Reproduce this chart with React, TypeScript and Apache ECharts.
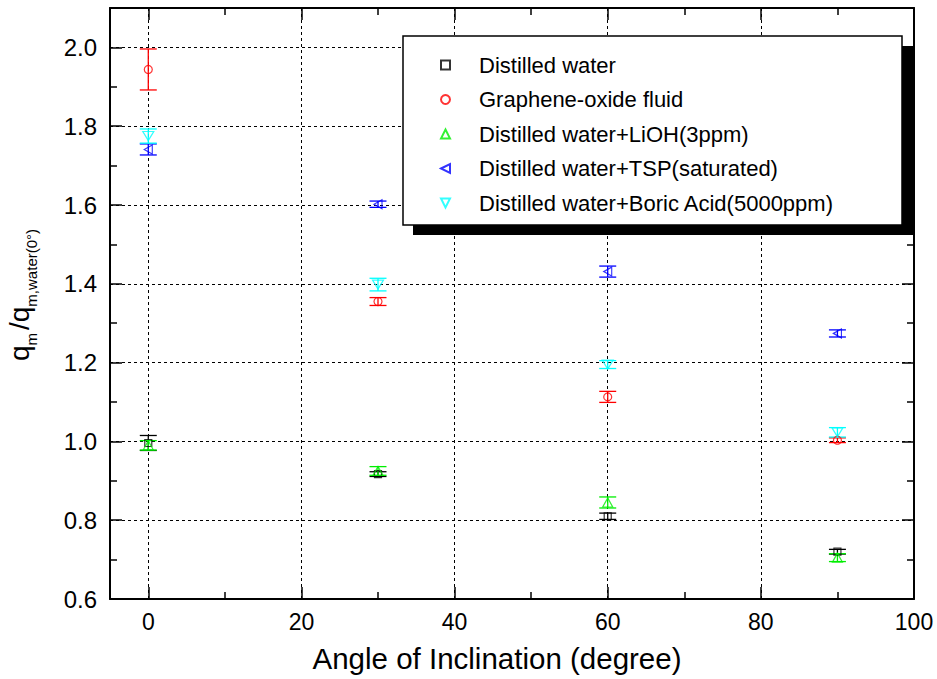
import React, { useEffect, useRef } from 'react';
import * as echarts from 'echarts';

const angles = [0, 30, 60, 90];
const seriesNames = [
  'Distilled water',
  'Graphene-oxide fluid',
  'Distilled water+LiOH(3ppm)',
  'Distilled water+TSP(saturated)',
  'Distilled water+Boric Acid(5000ppm)',
];
const distilledWater = [0.996, 0.917, 0.81, 0.72];
const distilledWaterErr = [0.019, 0.006, 0.008, 0.006];
const grapheneOxide = [1.944, 1.355, 1.113, 1.003];
const grapheneOxideErr = [0.052, 0.01, 0.014, 0.006];
const lioh = [0.99, 0.925, 0.845, 0.705];
const liohErr = [0.012, 0.011, 0.014, 0.01];
const tsp = [1.741, 1.602, 1.431, 1.274];
const tspErr = [0.014, 0.008, 0.014, 0.009];
const boric = [1.775, 1.398, 1.195, 1.023];
const boricErr = [0.018, 0.016, 0.01, 0.012];

const xMajorTicks = [0, 20, 40, 60, 80, 100];
const xMinorTicks = [10, 30, 50, 70, 90];
const yMajorTicks = [0.6, 0.8, 1.0, 1.2, 1.4, 1.6, 1.8, 2.0];
const yMinorTicks = [0.7, 0.9, 1.1, 1.3, 1.5, 1.7, 1.9];

const FONT = '"Liberation Sans", Arial, sans-serif';

const colors = ['#000000', '#ff0000', '#00ee00', '#0000ff', '#00ffff'];
const symbols = ['rect', 'circle', 'triangle', 'path://M0,5L10,0L10,10Z', 'path://M0,0L10,0L5,10Z'];
const symbolSizes: any[] = [7, 8, [10, 9], [8, 9], [11, 9]];
const values = [distilledWater, grapheneOxide, lioh, tsp, boric];
const errors = [distilledWaterErr, grapheneOxideErr, liohErr, tspErr, boricErr];

const X_MIN = -5, X_MAX = 100, Y_MIN = 0.6, Y_MAX = 2.1;

function xAxisDef(position: string, ticks: number[], len: number, main: boolean, labels: boolean): any {
  return {
    type: 'value', position, min: X_MIN, max: X_MAX, gridIndex: 0,
    axisLine: { show: main, onZero: false, lineStyle: { color: '#000', width: 2 } },
    axisTick: { show: true, inside: true, length: len, customValues: ticks, lineStyle: { color: '#000', width: 1.5 } },
    axisLabel: labels
      ? { show: true, customValues: xMajorTicks, fontFamily: FONT, fontSize: 23, color: '#000', margin: 11 }
      : { show: false },
    splitLine: main && labels
      ? { show: true, lineStyle: { color: '#000', width: 1, type: [3, 3] } }
      : { show: false },
    ...(labels ? {
      name: 'Angle of Inclination (degree)', nameLocation: 'middle', nameGap: 44,
      nameTextStyle: { fontFamily: FONT, fontSize: 29.5, color: '#000', padding: [0, 30, 0, 0] },
    } : {}),
  };
}

function yAxisDef(position: string, ticks: number[], len: number, main: boolean, labels: boolean): any {
  return {
    type: 'value', position, min: Y_MIN, max: Y_MAX, gridIndex: 0,
    axisLine: { show: main, onZero: false, lineStyle: { color: '#000', width: 2 } },
    axisTick: { show: true, inside: true, length: len, customValues: ticks, lineStyle: { color: '#000', width: 1.5 } },
    axisLabel: labels
      ? { show: true, customValues: yMajorTicks, fontFamily: FONT, fontSize: 24, color: '#000', margin: 13,
          formatter: (v: number) => v.toFixed(1) }
      : { show: false },
    splitLine: main && labels
      ? { show: true, lineStyle: { color: '#000', width: 1, type: [3, 3] } }
      : { show: false },
    ...(labels ? {
      name: '{q|q}{s|m}{q|/q}{s|m,water(0°)}', nameLocation: 'middle', nameGap: 71, nameRotate: 90,
      nameTextStyle: {
        padding: [0, 0, 0, 20],
        rich: {
          q: { fontFamily: FONT, fontSize: 28, lineHeight: 40, color: '#000', verticalAlign: 'middle' },
          s: { fontFamily: FONT, fontSize: 15, lineHeight: 15, color: '#000', verticalAlign: 'bottom', padding: [0, 3, 0, 0] },
        },
      },
    } : {}),
  };
}

export default function App() {
  const ref = useRef<HTMLDivElement>(null);
  useEffect(() => {
    if (!ref.current) return;
    const chart = echarts.init(ref.current, undefined, { renderer: 'svg' });
    const errSeries = seriesNames.map((name, i) => ({
      type: 'custom', name: 'err-' + name, xAxisIndex: 0, yAxisIndex: 0, z: 2,
      data: angles.map((a, j) => [a, values[i][j], errors[i][j]]),
      encode: { x: 0, y: 1 },
      renderItem: (params: any, api: any) => {
        const x = api.value(0), y = api.value(1), e = api.value(2);
        const top = api.coord([x, y + e]);
        const bot = api.coord([x, y - e]);
        const hw = 8.5;
        const style = { stroke: colors[i], lineWidth: 1.3, fill: null };
        return {
          type: 'group', children: [
            { type: 'line', shape: { x1: top[0], y1: top[1], x2: bot[0], y2: bot[1] }, style },
            { type: 'line', shape: { x1: top[0] - hw, y1: top[1], x2: top[0] + hw, y2: top[1] }, style },
            { type: 'line', shape: { x1: bot[0] - hw, y1: bot[1], x2: bot[0] + hw, y2: bot[1] }, style },
          ],
        };
      },
    }));
    const scatterSeries = seriesNames.map((name, i) => ({
      type: 'scatter', name, xAxisIndex: 0, yAxisIndex: 0, z: 3,
      symbol: symbols[i], symbolSize: symbolSizes[i],
      itemStyle: { color: 'rgba(255,255,255,0)', borderColor: colors[i], borderWidth: 1.2 },
      data: angles.map((a, j) => [a, values[i][j]]),
    }));
    chart.setOption({
      animation: false,
      backgroundColor: '#fff',
      grid: { left: 110, right: 23, top: 8, bottom: 80, outerBoundsMode: 'none', containLabel: false },
      xAxis: [
        xAxisDef('bottom', xMajorTicks, 12, true, true),
        xAxisDef('bottom', xMinorTicks, 7, false, false),
        xAxisDef('top', xMajorTicks, 12, true, false),
        xAxisDef('top', xMinorTicks, 7, false, false),
      ],
      yAxis: [
        yAxisDef('left', yMajorTicks, 12, true, true),
        yAxisDef('left', yMinorTicks, 7, false, false),
        yAxisDef('right', yMajorTicks, 12, true, false),
        yAxisDef('right', yMinorTicks, 7, false, false),
      ],
      legend: {
        orient: 'vertical', left: 435, top: 49, z: 20,
        itemWidth: 9, itemHeight: 9, itemGap: 12.5,
        data: seriesNames,
        textStyle: { fontFamily: FONT, fontSize: 22, lineHeight: 22, color: '#000', padding: [0, 0, 0, 24] },
      },
      graphic: [
        { type: 'rect', z: 10, shape: { x: 413, y: 46, width: 502, height: 189 }, style: { fill: '#000' } },
        { type: 'rect', z: 11, shape: { x: 403, y: 36, width: 499, height: 189 }, style: { fill: '#fff', stroke: '#000', lineWidth: 1.5 } },
      ],
      series: [...errSeries, ...scatterSeries],
    });
    return () => chart.dispose();
  }, []);
  return <div ref={ref} style={{ position: 'absolute', left: 0, top: 0, width: 937, height: 679 }} />;
}
